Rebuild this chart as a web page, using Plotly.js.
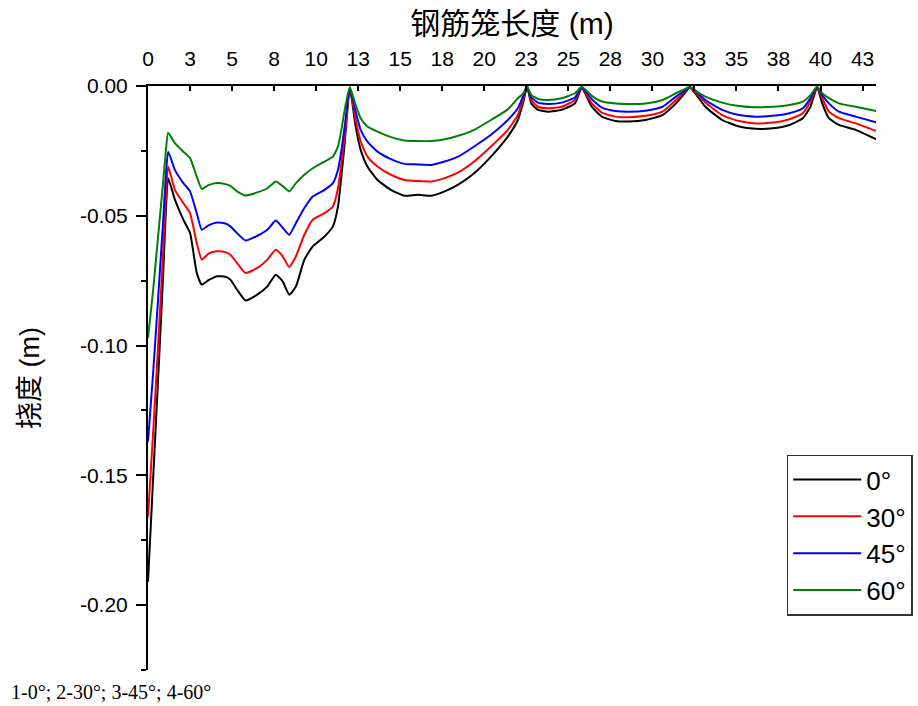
<!DOCTYPE html>
<html>
<head>
<meta charset="utf-8">
<script src="https://cdn.plot.ly/plotly-3.0.1.min.js"></script>
<style>html,body{margin:0;padding:0;background:#fff;}#chart{width:918px;height:706px;}</style>
</head>
<body>
<div id="chart"></div>
<script>
// Cage length (m)
const lengthM = [
  0, 0.3, 0.6, 0.9, 1.05, 1.2, 1.6, 2.1, 2.5, 2.9, 3.2, 3.6, 4.1, 4.6, 4.9, 5.3, 5.8, 6.5, 7.1, 7.6, 8.0, 8.4, 8.8, 9.3, 9.8, 10.5, 11.0, 11.3, 11.5, 11.7, 12.0,
  12.35, 12.65, 13.05, 13.65, 14.45, 15.25, 16.05, 16.85, 17.65, 18.45, 19.4, 20.4, 21.4, 22.0, 22.3, 22.55,
  22.8, 23.2, 23.8, 24.6, 25.4, 25.8,
  26.4, 27.0, 27.8, 28.6, 29.6, 30.6, 31.4, 32.0, 32.2,
  32.55, 33.15, 34.15, 35.15, 36.15, 37.15, 38.15, 38.95, 39.4, 39.8,
  40.1, 40.5, 41.1, 42.1, 43.3
];
// Deflection (m) for each angle
const defl0 = [
  -0.191, -0.152, -0.113, -0.073, -0.050, -0.0355, -0.0438, -0.0515, -0.0566, -0.072, -0.0765, -0.0748, -0.0733, -0.0735, -0.0746, -0.0785, -0.0826, -0.0804, -0.0772, -0.0727, -0.0752, -0.0804, -0.0772, -0.0669, -0.0618, -0.058, -0.0541, -0.0464, -0.035, -0.022, -0.0008,
  -0.0156, -0.0246, -0.031, -0.0362, -0.040, -0.0423, -0.0419, -0.0423, -0.0406, -0.038, -0.0336, -0.0272, -0.0195, -0.0131, -0.0067, -0.0005,
  -0.0067, -0.0092, -0.0099, -0.0092, -0.0067, -0.0008,
  -0.008, -0.0118, -0.0135, -0.0137, -0.0131, -0.0112, -0.0067, -0.0022, -0.0005,
  -0.0028, -0.008, -0.0131, -0.0156, -0.0165, -0.0163, -0.015, -0.0124, -0.008, -0.0005,
  -0.0067, -0.0124, -0.015, -0.0169, -0.0205
];
const defl30 = [
  -0.166, -0.134, -0.100, -0.064, -0.044, -0.031, -0.040, -0.0451, -0.049, -0.0605, -0.0669, -0.0646, -0.0637, -0.0640, -0.065, -0.0682, -0.072, -0.0701, -0.0669, -0.0631, -0.0655, -0.0697, -0.0656, -0.0573, -0.0515, -0.049, -0.0464, -0.0394, -0.030, -0.0195, -0.0007,
  -0.0131, -0.0214, -0.0272, -0.031, -0.0342, -0.0362, -0.0366, -0.0368, -0.0355, -0.0333, -0.0291, -0.0233, -0.0169, -0.0112, -0.0054, -0.0004,
  -0.0054, -0.008, -0.0086, -0.008, -0.0054, -0.0006,
  -0.0067, -0.0103, -0.0118, -0.012, -0.0115, -0.0099, -0.0054, -0.0018, -0.0004,
  -0.0024, -0.0064, -0.0112, -0.0135, -0.0144, -0.0141, -0.0128, -0.0105, -0.006, -0.0004,
  -0.0047, -0.0099, -0.0124, -0.0144, -0.0173
];
const defl45 = [
  -0.137, -0.111, -0.082, -0.052, -0.036, -0.0253, -0.0323, -0.0374, -0.0406, -0.049, -0.0554, -0.0537, -0.0526, -0.0530, -0.0541, -0.0567, -0.0595, -0.0577, -0.0554, -0.0518, -0.0545, -0.0573, -0.0528, -0.047, -0.0426, -0.040, -0.0374, -0.0323, -0.025, -0.0156, -0.0006,
  -0.0099, -0.0169, -0.0214, -0.0253, -0.0282, -0.030, -0.0302, -0.0304, -0.0291, -0.0272, -0.0233, -0.0188, -0.0131, -0.0086, -0.0041, -0.0003,
  -0.0044, -0.0064, -0.0069, -0.0064, -0.0044, -0.0005,
  -0.0051, -0.0083, -0.0096, -0.0099, -0.0095, -0.008, -0.0041, -0.0015, -0.0003,
  -0.0018, -0.0054, -0.0092, -0.0112, -0.0118, -0.0115, -0.0105, -0.0086, -0.0047, -0.0003,
  -0.0035, -0.0067, -0.0099, -0.0118, -0.014
];
const defl60 = [
  -0.097, -0.079, -0.058, -0.037, -0.026, -0.018, -0.022, -0.0253, -0.0278, -0.0349, -0.0397, -0.0382, -0.0374, -0.0378, -0.0385, -0.0406, -0.0422, -0.041, -0.0394, -0.0368, -0.0385, -0.0406, -0.0374, -0.0342, -0.0317, -0.0291, -0.0272, -0.0233, -0.017, -0.0092, -0.0005,
  -0.0073, -0.0124, -0.0156, -0.0176, -0.0197, -0.021, -0.0212, -0.0212, -0.0205, -0.0192, -0.0169, -0.0131, -0.009, -0.0047, -0.003, -0.0002,
  -0.0035, -0.005, -0.0054, -0.0047, -0.0028, -0.0003,
  -0.0038, -0.006, -0.0067, -0.0069, -0.0067, -0.0054, -0.0028, -0.001, -0.0002,
  -0.0018, -0.0041, -0.0064, -0.0077, -0.0082, -0.008, -0.0073, -0.006, -0.0035, -0.0002,
  -0.0028, -0.0047, -0.0067, -0.008, -0.0096
];
const seriesNames = ['0°', '30°', '45°', '60°'];
const seriesColors = ['#000000', '#ff0000', '#0000ff', '#008000'];
const xTickVals = [0, 2.5, 5, 7.5, 10, 12.5, 15, 17.5, 20, 22.5, 25, 27.5, 30, 32.5, 35, 37.5, 40, 42.5];
const xTickText = ['0', '3', '5', '8', '10', '13', '15', '18', '20', '23', '25', '28', '30', '33', '35', '38', '40', '43'];
const xMajorVals = [0, 5, 10, 15, 20, 25, 30, 35, 40];
const yTickVals = [0, -0.05, -0.10, -0.15, -0.20];
const yTickText = ['0.00', '-0.05', '-0.10', '-0.15', '-0.20'];
const yMinorVals = [-0.025, -0.075, -0.125, -0.175, -0.225];

const ys = [defl0, defl30, defl45, defl60];
const traces = ys.map((y, i) => ({
  x: lengthM, y: y, type: 'scatter', mode: 'lines',
  name: seriesNames[i], legendgroup: 'g' + i,
  line: {color: seriesColors[i], width: 2, shape: 'spline', smoothing: 0.5}
}));

const FONT = 'Liberation Sans, Arial, "Noto Sans CJK SC", sans-serif';
const layout = {
  width: 918, height: 706,
  margin: {l: 148, r: 42, t: 86, b: 36, autoexpand: false},
  paper_bgcolor: '#ffffff', plot_bgcolor: '#ffffff',
  font: {family: FONT, color: '#000'},
  showlegend: true,
  legend: {
    xref: 'container', yref: 'container',
    x: 0.857, y: 0.356, xanchor: 'left', yanchor: 'top',
    bgcolor: '#ffffff', bordercolor: '#333333', borderwidth: 1.5,
    font: {size: 26, family: FONT}, itemwidth: 68,
    traceorder: 'grouped', tracegroupgap: 0
  },
  xaxis: {
    side: 'top', range: [0, 43.3], tickmode: 'array',
    tickvals: xTickVals, ticktext: xTickText,
    ticks: 'inside', ticklen: 5, tickwidth: 2, tickcolor: '#000',
    tickfont: {size: 21}, ticklabelstandoff: 10,
    showline: true, linecolor: '#000', linewidth: 2,
    showgrid: false, zeroline: false, mirror: false,
    title: {text: '钢筋笼长度 (m)', font: {size: 30}, standoff: 3}
  },
  xaxis2: {
    overlaying: 'x', side: 'top', range: [0, 43.3], tickmode: 'array',
    tickvals: xMajorVals, ticks: 'inside', ticklen: 10, tickwidth: 2, tickcolor: '#000',
    showticklabels: false, showline: false, showgrid: false, zeroline: false
  },
  yaxis: {
    range: [-0.225, 0], tickmode: 'array',
    tickvals: yTickVals, ticktext: yTickText,
    ticks: 'outside', ticklen: 10, tickwidth: 2, tickcolor: '#000',
    minor: {tickmode: 'array', tickvals: yMinorVals, ticks: 'outside', ticklen: 5, tickwidth: 2, tickcolor: '#000'},
    tickfont: {size: 21}, ticklabelstandoff: 4,
    showline: true, linecolor: '#000', linewidth: 2,
    showgrid: false, zeroline: false, mirror: false,
    title: {text: '挠度 (m)', font: {size: 27}, standoff: 32}
  },
  annotations: [{
    text: '1-0°; 2-30°; 3-45°; 4-60°', xref: 'paper', yref: 'paper',
    x: -0.191, y: -0.038, xanchor: 'left', yanchor: 'middle', showarrow: false,
    font: {family: 'Liberation Serif, "Times New Roman", serif', size: 20, color: '#000'}
  }]
};

Plotly.newPlot('chart', traces, layout, {displayModeBar: false, staticPlot: true});
</script>
</body>
</html>
